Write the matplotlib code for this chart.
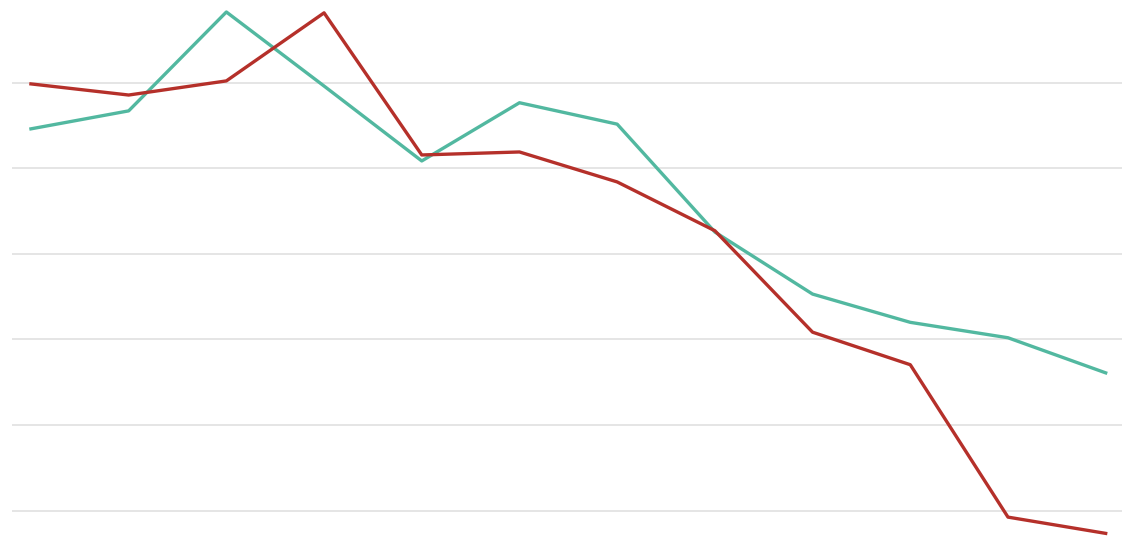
import matplotlib
matplotlib.use("Agg")
import matplotlib.pyplot as plt

# valori (12 punti, nessuna etichetta visibile)
periods = list(range(12))
teal_values = [89.2, 93.4, 116.5, 99.2, 81.7, 95.3, 90.3, 65.1, 50.6, 44.0, 40.4, 32.2]
red_values = [99.7, 97.1, 100.4, 116.3, 83.1, 83.8, 76.8, 65.4, 41.7, 34.1, -1.5, -5.3]
grid_levels = [0, 20, 40, 60, 80, 100]

fig = plt.figure(figsize=(11.22, 5.44), dpi=100)
ax = fig.add_axes([12 / 1122, 0, 1110 / 1122, 1])

# griglia orizzontale
for g in grid_levels:
    ax.axhline(g, color="#e3e3e3", linewidth=1.3, zorder=0)

ax.plot(periods, teal_values, color="#52b8a0", linewidth=2.4, zorder=2)
ax.plot(periods, red_values, color="#b5302a", linewidth=2.4, zorder=3)

ax.set_xlim(-0.194, 11.167)
ax.set_ylim(-7.78, 119.3)
ax.axis("off")

fig.savefig("out.png", dpi=100)
